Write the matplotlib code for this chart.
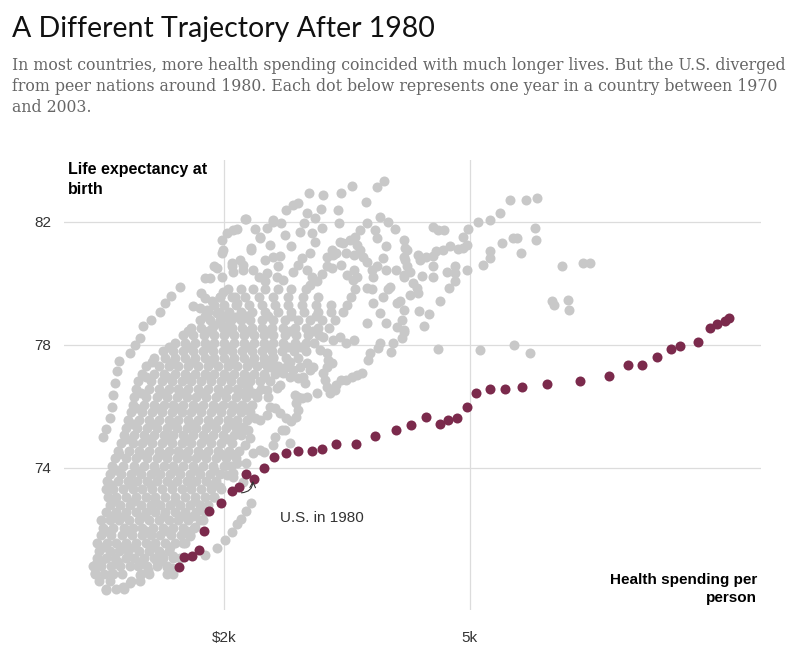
import matplotlib
matplotlib.use("Agg")
import matplotlib.pyplot as plt

# U.S., one dot per year from 1970 (spending in $k, life expectancy)
us_spend = [1.45, 1.51, 1.61, 1.69, 1.75, 1.81, 1.96, 2.09, 2.18, 2.27, 2.36,
            2.49, 2.61, 2.75, 2.90, 3.07, 3.20, 3.36, 3.61, 3.84, 4.10, 4.28,
            4.47, 4.63, 4.73, 4.84, 4.96, 5.07, 5.24, 5.43, 5.64, 5.94, 6.35,
            6.70, 6.93, 7.10, 7.28, 7.46, 7.57, 7.78, 7.93, 8.02, 8.11, 8.17]
us_life = [70.78, 71.09, 71.13, 71.32, 71.94, 72.59, 72.84, 73.24, 73.36, 73.80, 73.64,
           74.00, 74.35, 74.46, 74.55, 74.55, 74.61, 74.76, 74.76, 75.02, 75.22, 75.37,
           75.64, 75.41, 75.56, 75.61, 75.98, 76.43, 76.57, 76.57, 76.62, 76.73, 76.83,
           76.97, 77.34, 77.34, 77.59, 77.84, 77.94, 78.09, 78.55, 78.66, 78.76, 78.85]

# peer countries: dense part of the cloud, read row by row (life expectancy -> spending $k)
cloud_rows_y = [70.05, 70.3, 70.55, 70.8, 71.05, 71.3, 71.55, 71.8, 72.05, 72.3,
                72.55, 72.8, 73.05, 73.3, 73.55, 73.8, 74.05, 74.3, 74.55, 74.8,
                75.05, 75.3, 75.55, 75.8, 76.05, 76.3, 76.55, 76.8, 77.05, 77.3,
                77.55, 77.8, 78.05, 78.3, 78.55, 78.8, 79.05, 79.3, 79.55, 79.8]
cloud_rows_x = [
    [0.55, 0.68, 0.78],
    [0.47, 0.60, 0.86, 0.97],
    [0.42, 0.53, 0.64, 0.75, 0.98, 1.08, 1.30, 1.37],
    [0.40, 0.50, 0.62, 0.73, 0.85, 0.95, 1.06, 1.18, 1.30],
    [0.44, 0.55, 0.67, 0.80, 0.90, 1.02, 1.14, 1.25, 1.38, 1.46],
    [0.47, 0.60, 0.72, 0.83, 0.96, 1.08, 1.20, 1.32],
    [0.45, 0.57, 0.68, 0.80, 0.92, 1.04, 1.16, 1.28, 1.40, 1.52],
    [0.50, 0.62, 0.75, 0.87, 0.99, 1.10, 1.22, 1.35, 1.47, 1.58],
    [0.52, 0.64, 0.77, 0.88, 1.00, 1.13, 1.25, 1.38, 1.50, 1.63],
    [0.50, 0.60, 0.72, 0.84, 0.96, 1.08, 1.20, 1.32, 1.44, 1.56, 1.70],
    [0.56, 0.68, 0.80, 0.92, 1.04, 1.16, 1.28, 1.40, 1.52, 1.66, 1.76],
    [0.60, 0.73, 0.85, 0.98, 1.10, 1.22, 1.34, 1.46, 1.58, 1.70, 1.80],
    [0.58, 0.68, 0.80, 0.92, 1.04, 1.16, 1.28, 1.40, 1.52, 1.64, 1.76, 1.88],
    [0.55, 0.64, 0.76, 0.88, 1.00, 1.12, 1.24, 1.36, 1.48, 1.60, 1.72, 1.84, 1.96],
    [0.57, 0.70, 0.82, 0.94, 1.06, 1.18, 1.30, 1.42, 1.54, 1.66, 1.78, 1.90],
    [0.60, 0.74, 0.86, 0.98, 1.10, 1.22, 1.34, 1.46, 1.58, 1.70, 1.82, 1.95],
    [0.63, 0.76, 0.90, 1.02, 1.14, 1.26, 1.38, 1.50, 1.62, 1.74, 1.86, 2.00, 2.08],
    [0.66, 0.80, 0.92, 1.06, 1.18, 1.30, 1.42, 1.54, 1.66, 1.78, 1.90, 2.02, 2.14],
    [0.70, 0.84, 0.96, 1.08, 1.20, 1.32, 1.44, 1.56, 1.68, 1.80, 1.92, 2.06, 2.18],
    [0.74, 0.88, 1.00, 1.12, 1.24, 1.36, 1.48, 1.60, 1.72, 1.84, 1.96, 2.10],
    [0.78, 0.90, 1.02, 1.14, 1.26, 1.38, 1.50, 1.62, 1.74, 1.86, 1.98, 2.12, 2.20],
    [0.80, 0.94, 1.06, 1.18, 1.30, 1.42, 1.54, 1.66, 1.78, 1.90, 2.02, 2.14],
    [0.83, 0.96, 1.08, 1.20, 1.32, 1.44, 1.56, 1.68, 1.80, 1.92, 2.04, 2.16, 2.28],
    [0.86, 1.00, 1.12, 1.24, 1.36, 1.48, 1.60, 1.72, 1.84, 1.96, 2.08, 2.20, 2.32],
    [0.88, 1.02, 1.14, 1.26, 1.38, 1.50, 1.62, 1.74, 1.86, 1.98, 2.10, 2.22, 2.34],
    [0.90, 1.05, 1.18, 1.30, 1.42, 1.54, 1.66, 1.78, 1.90, 2.02, 2.14, 2.26, 2.40],
    [0.92, 1.08, 1.20, 1.32, 1.44, 1.56, 1.68, 1.80, 1.92, 2.04, 2.16, 2.28, 2.45],
    [0.95, 1.10, 1.24, 1.36, 1.48, 1.60, 1.72, 1.84, 1.96, 2.08, 2.20, 2.32, 2.44, 2.56],
    [1.00, 1.14, 1.27, 1.40, 1.52, 1.64, 1.76, 1.88, 2.00, 2.12, 2.24, 2.36, 2.48, 2.62],
    [1.05, 1.20, 1.32, 1.44, 1.56, 1.68, 1.80, 1.92, 2.04, 2.16, 2.28, 2.40, 2.52, 2.66],
    [1.14, 1.28, 1.40, 1.52, 1.64, 1.76, 1.88, 2.00, 2.12, 2.24, 2.36, 2.48, 2.60, 2.75, 2.90],
    [1.25, 1.38, 1.50, 1.62, 1.74, 1.86, 1.98, 2.10, 2.22, 2.34, 2.46, 2.58, 2.70, 2.85, 3.00],
    [1.40, 1.52, 1.64, 1.76, 1.88, 2.00, 2.12, 2.24, 2.36, 2.48, 2.60, 2.72, 2.86, 3.00, 3.10],
    [1.50, 1.62, 1.75, 1.87, 2.00, 2.12, 2.24, 2.36, 2.48, 2.60, 2.74, 2.88, 3.02, 3.16],
    [1.60, 1.72, 1.85, 1.98, 2.10, 2.22, 2.34, 2.46, 2.58, 2.72, 2.86, 3.00, 3.14, 3.28],
    [1.70, 1.82, 1.95, 2.08, 2.20, 2.32, 2.46, 2.60, 2.74, 2.90, 3.05, 3.20, 3.35],
    [1.80, 1.93, 2.06, 2.20, 2.34, 2.50, 2.66, 2.82, 2.98, 3.14, 3.30, 3.45],
    [1.88, 2.00, 2.14, 2.30, 2.46, 2.62, 2.78, 2.95, 3.12, 3.30, 3.50],
    [1.95, 2.10, 2.25, 2.42, 2.60, 2.78, 2.96, 3.15, 3.55],
    [2.05, 2.20, 2.35, 2.50, 2.66, 2.82, 3.00, 3.60, 3.80, 4.00],
]
# in-between dots that fill the core of the cloud
core_rows_y = [70.93, 71.43, 71.93, 72.43, 72.93, 73.43, 73.93, 74.43, 74.93,
               75.43, 75.93, 76.43, 76.93, 77.43, 77.93, 78.43, 78.93]
core_rows_x = [
    [0.50, 0.70, 0.96, 1.20],
    [0.53, 0.75, 0.90, 1.14, 1.34],
    [0.56, 0.81, 1.05, 1.30, 1.54],
    [0.62, 0.78, 1.02, 1.26, 1.48, 1.62],
    [0.66, 0.90, 1.16, 1.40, 1.64],
    [0.62, 0.86, 1.10, 1.36, 1.60, 1.84],
    [0.68, 0.92, 1.16, 1.40, 1.64, 1.88],
    [0.72, 0.98, 1.24, 1.48, 1.72, 1.96, 2.10],
    [0.80, 1.06, 1.30, 1.56, 1.80, 2.04],
    [0.88, 1.12, 1.36, 1.60, 1.86, 2.10],
    [0.92, 1.18, 1.42, 1.68, 1.92, 2.16, 2.28],
    [0.98, 1.24, 1.50, 1.74, 2.00, 2.20, 2.35],
    [1.05, 1.30, 1.56, 1.82, 2.06, 2.30, 2.50],
    [1.12, 1.38, 1.62, 1.86, 2.10, 2.34, 2.58, 2.80],
    [1.32, 1.56, 1.80, 2.04, 2.30, 2.54, 2.78, 2.94],
    [1.56, 1.80, 2.06, 2.30, 2.54, 2.80, 3.08],
    [1.76, 2.02, 2.26, 2.54, 2.82, 3.12],
]

# single dots read one by one (spending $k, life expectancy)
gray_left_chain = [(0.52, 74.99), (0.56, 75.27), (0.60, 75.61), (0.63, 75.96), (0.64, 76.35),
                   (0.66, 76.76), (0.69, 77.13), (0.72, 77.47), (0.85, 77.74), (0.91, 77.99),
                   (0.97, 78.21), (1.01, 78.59), (1.11, 78.80), (1.22, 79.07), (1.28, 79.35),
                   (1.35, 79.58), (1.46, 79.87)]
gray_upper = [(3.04, 82.94), (3.21, 82.87), (3.43, 82.92), (3.56, 83.14), (3.86, 83.12), (3.95, 83.33),
              (3.73, 82.62), (3.39, 82.38), (2.76, 82.38), (2.84, 82.54), (2.90, 82.60), (3.01, 82.27),
              (3.11, 82.11), (2.27, 82.08), (2.60, 82.06), (2.69, 81.95), (3.40, 81.95), (3.74, 81.95),
              (3.90, 82.16), (4.00, 82.00), (3.84, 81.73), (3.86, 81.46), (3.66, 81.73), (3.60, 81.51),
              (3.62, 81.24), (3.53, 81.40), (3.41, 81.35), (3.31, 81.08), (3.37, 80.97), (2.92, 81.67),
              (3.07, 81.62), (3.11, 81.35), (3.05, 80.97), (2.95, 80.81), (2.82, 81.19), (2.52, 81.79),
              (2.44, 81.51), (2.33, 81.14), (2.50, 80.75), (2.60, 80.84), (2.68, 80.88), (2.23, 80.59),
              (2.35, 80.43), (2.42, 80.21), (2.50, 80.05), (2.52, 80.32), (2.64, 80.21), (2.72, 80.10),
              (2.84, 80.37), (3.01, 80.43), (3.07, 80.21), (3.13, 80.05), (3.05, 79.94), (3.25, 80.86),
              (3.33, 80.92), (3.25, 80.54), (3.31, 80.48), (3.45, 81.30), (3.49, 80.97), (3.58, 80.92),
              (3.66, 81.08), (3.70, 80.86), (3.74, 80.70), (3.62, 80.21), (3.58, 80.43), (3.80, 80.43),
              (3.86, 80.54), (3.98, 80.43), (4.10, 80.43), (4.19, 80.21), (4.19, 81.40), (4.23, 81.08),
              (4.19, 80.86), (2.19, 80.75), (2.23, 80.43), (1.97, 81.40), (2.03, 81.64), (2.11, 81.73),
              (2.15, 81.75), (1.97, 80.97), (1.87, 80.54), (1.91, 80.48), (2.09, 80.54), (2.11, 80.37),
              (1.76, 80.16), (1.83, 80.16), (1.97, 80.21), (1.72, 79.67), (1.76, 79.51), (1.85, 79.40),
              (1.99, 79.72), (1.95, 79.56), (2.13, 79.56), (2.15, 79.35), (1.62, 79.24), (1.70, 79.18),
              (1.79, 79.13), (1.87, 79.29), (1.91, 79.02), (2.03, 78.91), (2.13, 78.91), (1.95, 78.70),
              (1.87, 78.64), (2.03, 78.59), (2.25, 82.08), (2.33, 81.08), (2.44, 81.46), (2.60, 82.00),
              (1.99, 81.08), (2.09, 80.65), (3.57, 80.10), (3.74, 79.84), (3.82, 80.20), (3.94, 79.56),
              (4.02, 79.88), (4.11, 79.35), (4.19, 79.12), (3.82, 79.35), (3.90, 79.02), (3.74, 78.70),
              (3.98, 78.70), (4.11, 78.57), (2.74, 81.55), (2.98, 81.95), (3.20, 81.80), (3.18, 82.40),
              (2.38, 81.75), (2.56, 81.25), (2.66, 80.55), (2.90, 80.60), (3.20, 80.30), (3.42, 80.60),
              (3.50, 80.25), (3.94, 80.80), (3.98, 81.20), (4.08, 81.75)]
gray_middle = [(2.23, 73.54), (2.27, 74.14), (2.35, 74.47), (2.25, 74.74), (2.44, 74.58), (2.48, 74.52),
               (2.60, 74.74), (2.62, 75.01), (2.70, 75.23), (2.74, 75.23), (2.80, 74.79), (2.82, 75.50),
               (2.88, 75.66), (2.90, 75.88), (2.88, 76.09), (2.90, 76.31), (2.76, 75.61), (2.68, 75.77),
               (2.62, 75.93), (2.52, 75.71), (2.44, 75.55), (2.37, 75.61), (2.29, 75.23), (2.31, 74.96),
               (2.23, 75.33), (2.56, 75.98), (2.54, 76.31), (2.40, 76.42), (2.29, 76.58), (2.23, 76.74),
               (2.52, 76.53), (2.64, 76.58), (2.68, 76.69), (2.86, 76.36), (2.95, 76.26), (3.01, 76.31),
               (3.13, 76.42), (2.99, 76.74), (2.96, 76.96), (2.90, 76.91), (2.92, 77.28), (3.25, 76.63),
               (3.29, 76.42), (3.35, 76.53), (3.37, 76.69), (3.23, 76.85), (3.21, 77.07), (3.43, 76.85),
               (3.49, 76.85), (3.56, 76.96), (3.62, 77.01), (3.68, 77.07), (3.76, 77.50), (3.78, 77.72),
               (3.88, 77.88), (3.90, 78.04), (4.04, 77.77), (4.06, 78.04), (4.19, 78.42), (3.25, 77.72),
               (3.27, 77.50), (3.31, 77.40), (3.25, 77.28), (3.17, 77.83), (3.21, 78.26), (3.33, 78.15),
               (3.41, 78.26), (3.49, 78.04), (3.58, 78.15), (3.01, 77.40), (3.05, 77.18), (3.09, 77.28),
               (2.84, 77.18), (2.80, 76.96), (2.76, 77.28), (2.72, 77.07), (2.48, 77.40), (2.56, 77.28),
               (2.60, 77.61)]
gray_right = [(4.55, 81.82), (4.61, 81.73), (4.69, 81.71), (4.21, 81.13), (4.21, 80.75), (4.37, 80.92),
              (4.39, 80.75), (4.47, 80.86), (4.55, 80.88), (4.59, 81.05), (4.67, 81.08), (4.76, 81.21),
              (4.86, 81.10), (4.92, 81.13), (4.96, 81.24), (4.91, 81.51), (4.98, 81.75), (5.10, 82.00),
              (5.24, 82.06), (5.37, 82.27), (5.49, 82.71), (5.68, 82.71), (5.82, 82.76), (5.79, 81.80),
              (5.81, 81.40), (5.53, 81.46), (5.57, 81.46), (5.39, 81.30), (5.63, 80.99), (5.24, 81.05),
              (5.25, 80.81), (5.16, 80.59), (4.97, 80.41), (4.82, 80.54), (4.82, 80.34), (4.72, 80.37),
              (4.55, 80.19), (4.42, 80.23), (4.55, 80.56), (4.82, 80.05), (4.74, 79.83), (4.63, 79.40),
              (4.50, 79.00), (4.38, 79.10), (4.44, 78.61), (4.19, 78.48), (4.17, 78.21), (4.15, 79.40),
              (4.17, 78.80), (4.31, 79.99), (4.35, 79.83), (4.27, 79.62), (4.37, 79.67), (4.23, 80.54),
              (4.27, 80.37), (4.19, 80.27), (6.13, 80.54), (6.00, 79.40), (6.03, 79.29), (6.20, 79.45),
              (6.21, 79.13), (4.61, 77.86), (5.12, 77.83), (5.54, 77.97), (5.74, 77.74), (6.38, 80.64),
              (6.47, 80.64)]
gray_low = [(0.55, 70.02), (0.76, 70.12), (0.85, 70.25), (0.63, 70.57), (0.44, 70.94), (0.42, 70.57),
            (0.97, 70.51), (1.07, 70.67), (1.17, 71.00), (1.21, 71.23), (1.30, 70.78), (1.36, 70.74),
            (1.37, 71.11), (1.50, 71.55), (1.58, 71.76), (1.64, 72.08), (1.74, 72.30), (1.79, 72.62),
            (1.87, 73.06), (1.95, 73.38), (2.03, 73.76), (2.11, 73.83), (2.15, 74.15), (1.76, 71.17),
            (1.91, 71.38), (2.01, 71.63), (2.09, 71.92), (2.15, 72.18), (2.21, 72.33), (2.27, 72.60),
            (2.33, 72.84), (2.11, 73.71)]

gray_x, gray_y = [], []
for rows_y, rows_x in ((cloud_rows_y, cloud_rows_x), (core_rows_y, core_rows_x)):
    for y, xs in zip(rows_y, rows_x):
        gray_x += xs
        gray_y += [y] * len(xs)
for pts in (gray_left_chain, gray_upper, gray_middle, gray_right, gray_low):
    gray_x += [p[0] for p in pts]
    gray_y += [p[1] for p in pts]

fig = plt.figure(figsize=(8, 6.56), dpi=100)
ax = fig.add_axes([0.08, 0.0701, 0.871, 0.686])

ax.scatter(gray_x, gray_y, s=52, color='#c8c8c8', linewidths=0, zorder=2)
ax.scatter(us_spend, us_life, s=52, color='#7b2a4c', linewidths=0, zorder=3)

ax.set_xlim(0.043, 8.553)
ax.set_ylim(69.37, 84.0)
ax.set_xticks([2, 5])
ax.set_xticklabels(['$2k', '5k'], fontsize=11, color='#333333', family='Liberation Sans')
ax.set_yticks([74, 78, 82])
ax.set_yticklabels(['74', '78', '82'], fontsize=11, color='#333333', family='Liberation Sans')
ax.tick_params(length=0)
ax.tick_params(axis='x', pad=15)
ax.tick_params(axis='y', pad=9)
ax.grid(True, color='#dcdcdc', linewidth=0.9, zorder=0)
ax.set_axisbelow(True)
for s in ax.spines.values():
    s.set_visible(False)

# annotation for 1980
ax.annotate('', xy=(2.35, 73.57), xytext=(2.21, 73.18),
            arrowprops=dict(arrowstyle='->', color='#333333', lw=0.8,
                            connectionstyle='arc3,rad=0.45', shrinkA=0, shrinkB=0))
ax.text(2.68, 72.36, 'U.S. in 1980', fontsize=11, color='#333333',
        family='Liberation Sans', va='center', ha='left')

fig.text(68 / 800, 1 - 162 / 656, 'Life expectancy at\nbirth', fontsize=11.5, fontweight='bold',
         family='Liberation Sans', va='top', ha='left', linespacing=1.4)
fig.text(757 / 800, 1 - 573 / 656, 'Health spending per\nperson', fontsize=11, fontweight='bold',
         family='Liberation Sans', va='top', ha='right', multialignment='right', linespacing=1.4)

fig.text(12 / 800, 1 - 16 / 656, 'A Different Trajectory After 1980', fontsize=20.5,
         family='Lato', color='#111111', va='top', ha='left')
fig.text(12 / 800, 1 - 57 / 656,
         'In most countries, more health spending coincided with much longer lives. But the U.S. diverged\n'
         'from peer nations around 1980. Each dot below represents one year in a country between 1970\n'
         'and 2003.',
         fontsize=11.3, family='DejaVu Serif', color='#666666', va='top', ha='left', linespacing=1.32)

fig.savefig('out.png', dpi=100)
